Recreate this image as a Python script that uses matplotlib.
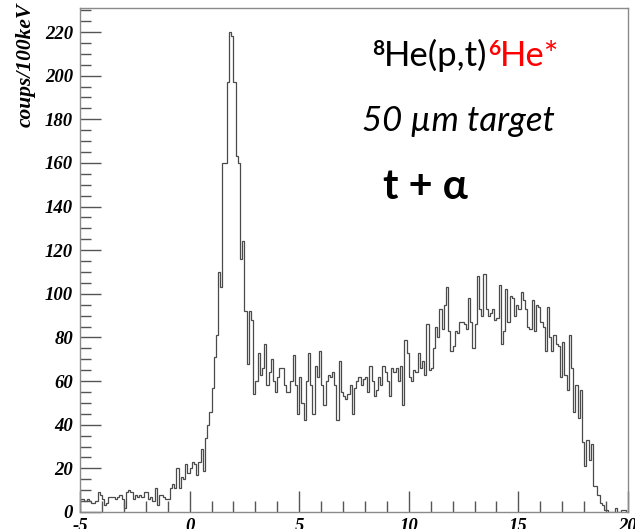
import numpy as np
import matplotlib
matplotlib.use("Agg")
import matplotlib.pyplot as plt

# ---- data: counts per 100 keV bin, from -5 to 20 ----
x_range = (-5.0, 20.0)
counts = [
    6, 6, 5, 6, 5, 4, 4, 5, 9, 8,            # -5.0 .. -4.1
    6, 3, 4, 7, 7, 7, 6, 7, 8, 6,            # -4.0 .. -3.1
    2, 9, 10, 9, 6, 8, 7, 8, 7, 9,           # -3.0 .. -2.1
    9, 6, 7, 5, 11, 3, 8, 8, 7, 6,           # -2.0 .. -1.1
    6, 11, 13, 11, 20, 11, 16, 15, 22, 18,   # -1.0 .. -0.1
    20, 23, 22, 17, 23, 29, 19, 34, 40, 46,  # 0.0 .. 0.9
    57, 71, 81, 110, 103, 160, 160, 197, 220, 218,  # 1.0 .. 1.9
    197, 163, 160, 116, 124, 92, 68, 92, 88, 54,    # 2.0 .. 2.9
    60, 73, 63, 66, 77, 58, 64, 70, 60, 55,  # 3.0 .. 3.9
    62, 66, 66, 58, 55, 55, 60, 72, 58, 45,  # 4.0 .. 4.9
    62, 50, 42, 60, 73, 58, 45, 67, 62, 74,  # 5.0 .. 5.9
    58, 49, 60, 63, 62, 64, 58, 42, 69, 55,  # 6.0 .. 6.9
    53, 52, 54, 58, 45, 57, 60, 62, 58, 61,  # 7.0 .. 7.9
    62, 55, 67, 60, 53, 56, 62, 58, 67, 64,  # 8.0 .. 8.9
    60, 53, 66, 64, 66, 60, 67, 49, 79, 73,  # 9.0 .. 9.9
    62, 60, 65, 64, 73, 66, 69, 63, 86, 65,  # 10.0 .. 10.9
    66, 75, 85, 80, 93, 84, 95, 103, 83, 74, # 11.0 .. 11.9
    76, 83, 82, 87, 87, 86, 84, 98, 87, 75,  # 12.0 .. 12.9
    86, 108, 93, 90, 109, 93, 90, 91, 93, 88,   # 13.0 .. 13.9
    89, 104, 77, 83, 102, 87, 99, 98, 90, 95,   # 14.0 .. 14.9
    93, 101, 97, 93, 85, 84, 97, 83, 95, 94,    # 15.0 .. 15.9
    87, 85, 74, 94, 80, 74, 81, 77, 76, 62,     # 16.0 .. 16.9
    78, 63, 56, 81, 66, 46, 58, 43, 56, 32,     # 17.0 .. 17.9
    21, 33, 24, 31, 12, 12, 8, 4, 3, 1,         # 18.0 .. 18.9
    1, 0, 0, 0, 2, 0, 0, 1, 1, 0,               # 19.0 .. 19.9
]
x_major = [-5, 0, 5, 10, 15, 20]
y_major = [0, 20, 40, 60, 80, 100, 120, 140, 160, 180, 200, 220]

edges = np.linspace(x_range[0], x_range[1], len(counts) + 1)

W, H = 635, 529
fig = plt.figure(figsize=(W / 100, H / 100), dpi=100)
ax = fig.add_axes([80 / W, 1 - 512 / H, (628 - 80) / W, (512 - 8) / H])

ax.stairs(counts, edges, color="#4a4a4a", lw=0.9)
ax.set_xlim(*x_range)
ax.set_ylim(0, 231)

serif_bi = dict(family="Liberation Serif", weight="bold", style="italic", size=13.5)
ax.set_xticks(x_major)
ax.set_yticks(y_major)
ax.set_xticks(np.arange(-5, 21, 1), minor=True)
ax.set_yticks(np.arange(0, 231, 5), minor=True)
ax.set_xticklabels([str(v) for v in x_major], fontdict=serif_bi)
ax.set_yticklabels([str(v) for v in y_major], fontdict=serif_bi)
ax.tick_params(which="both", direction="in", color="#555555", width=1,
               top=False, right=False)
ax.tick_params(which="major", length=15, pad=4)
ax.tick_params(which="minor", length=8)
ax.tick_params(axis="y", which="major", pad=5)
for s in ax.spines.values():
    s.set_color("#8a8a8a")
    s.set_linewidth(1.0)

fig.text(26 / W, 1 - 3 / H, "coups/100keV", rotation=90, ha="center", va="top",
         family="Liberation Serif", weight="bold", style="italic", size=15.5)

# ---- annotations ----
fig.canvas.draw()
renderer = fig.canvas.get_renderer()
sans = ["Lato", "DejaVu Sans"]

def pieces(x_px, base_px, parts):
    x = x_px
    for txt, size, color, weight, rise in parts:
        t = fig.text(x / W, 1 - (base_px - rise) / H, txt, ha="left", va="baseline",
                     family=sans, size=size, color=color, weight=weight)
        bb = t.get_window_extent(renderer)
        x += bb.width

pieces(372, 66, [
    ("8", 15, "black", "bold", 11),
    ("He(p,t)", 25, "black", "normal", 0),
    ("6", 15, "red", "bold", 11),
    ("He*", 25, "red", "normal", 0),
])

fig.text(362 / W, 1 - 131 / H, "50 µm target", ha="left", va="baseline",
         family=sans, size=25, style="italic")
fig.text(383 / W, 1 - 199 / H, "t + α", ha="left", va="baseline",
         family=sans, size=30, weight="bold")

fig.savefig("out.png", dpi=100)
